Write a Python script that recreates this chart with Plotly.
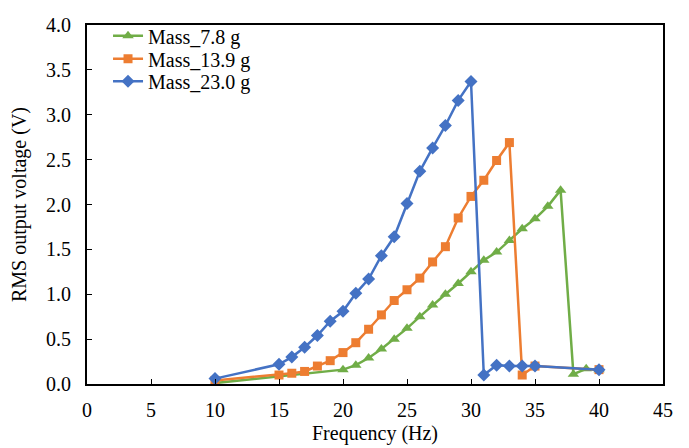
import plotly.graph_objects as go

freq_78 = [10, 20, 21, 22, 23, 24, 25, 26, 27, 28, 29, 30, 31, 32, 33, 34, 35, 36, 37, 38, 39, 40]
volt_78 = [0.01, 0.16, 0.21, 0.29, 0.39, 0.50, 0.62, 0.75, 0.88, 1.00, 1.12, 1.25, 1.38, 1.47, 1.60, 1.73, 1.84, 1.98, 2.16, 0.11, 0.17, 0.16]

freq_139 = [10, 15, 16, 17, 18, 19, 20, 21, 22, 23, 24, 25, 26, 27, 28, 29, 30, 31, 32, 33, 34, 35, 40]
volt_139 = [0.04, 0.10, 0.12, 0.14, 0.20, 0.26, 0.35, 0.46, 0.61, 0.77, 0.93, 1.05, 1.18, 1.36, 1.53, 1.85, 2.09, 2.27, 2.49, 2.69, 0.10, 0.20, 0.16]

freq_230 = [10, 15, 16, 17, 18, 19, 20, 21, 22, 23, 24, 25, 26, 27, 28, 29, 30, 31, 32, 33, 34, 35, 40]
volt_230 = [0.06, 0.22, 0.30, 0.41, 0.54, 0.70, 0.81, 1.01, 1.17, 1.43, 1.64, 2.01, 2.37, 2.63, 2.88, 3.16, 3.37, 0.10, 0.21, 0.20, 0.20, 0.20, 0.16]

series = [
    ("Mass_7.8 g", freq_78, volt_78, "#70AD47", "triangle-up", 10, "legend"),
    ("Mass_13.9 g", freq_139, volt_139, "#ED7D31", "square", 9, "legend2"),
    ("Mass_23.0 g", freq_230, volt_230, "#4472C4", "diamond", 10, "legend3"),
]

fig = go.Figure()
for name, x, y, color, sym, msize, lg in series:
    fig.add_trace(go.Scatter(
        x=x, y=y, name=name, mode="lines+markers",
        line=dict(color=color, width=2.5),
        marker=dict(color=color, symbol=sym, size=msize),
        legend=lg,
    ))

font = "Liberation Serif"
leg_common = dict(xanchor="left", yanchor="middle", x=0.0365,
                  bgcolor="rgba(0,0,0,0)", font=dict(family=font, size=20),
                  itemwidth=30)
fig.update_layout(
    width=689, height=448,
    margin=dict(l=79, r=34, t=8, b=72),
    paper_bgcolor="white", plot_bgcolor="white",
    font=dict(family=font, size=20, color="black"),
    showlegend=True,
    legend=dict(y=0.970, **leg_common),
    legend2=dict(y=0.906, **leg_common),
    legend3=dict(y=0.843, **leg_common),
)
fig.update_xaxes(
    range=[0, 45], dtick=5, tick0=0, automargin=False,
    showline=True, linecolor="black", linewidth=2, mirror=True,
    ticks="inside", ticklen=5, tickcolor="black", tickwidth=1,
    ticklabelstandoff=7,
    showgrid=False, zeroline=False,
    title=dict(text="Frequency (Hz)", font=dict(family=font, size=20), standoff=6),
    tickfont=dict(family=font, size=20),
)
fig.update_yaxes(
    range=[0, 4.0], dtick=0.5, tick0=0, tickformat=".1f", automargin=False,
    showline=True, linecolor="black", linewidth=2, mirror=True,
    ticks="inside", ticklen=5, tickcolor="black", tickwidth=1,
    ticklabelstandoff=10,
    showgrid=False, zeroline=False,
    title=dict(text="RMS output voltage (V)", font=dict(family=font, size=20), standoff=15),
    tickfont=dict(family=font, size=20),
)

fig.write_html("out.html")
